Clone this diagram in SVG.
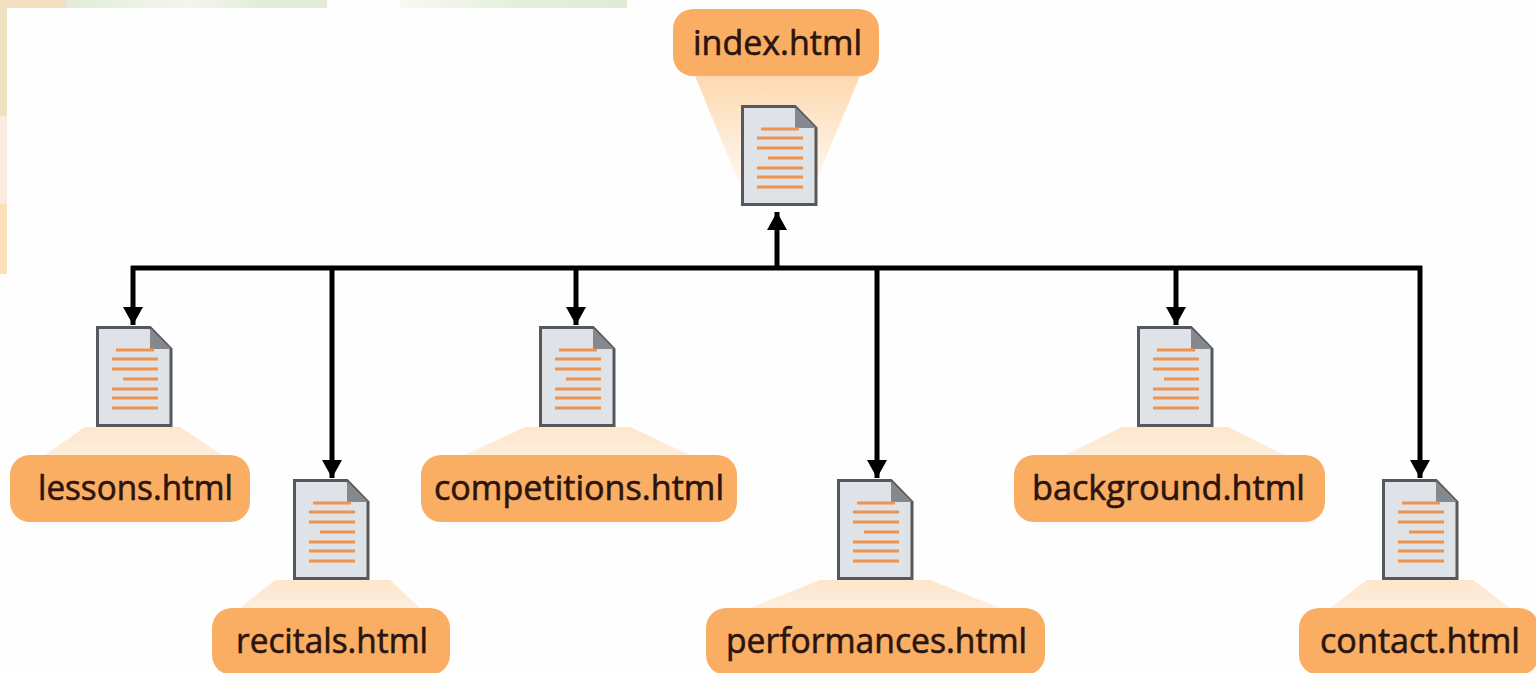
<svg xmlns="http://www.w3.org/2000/svg" width="1536" height="673" viewBox="0 0 1536 673">
<style>
.pill{fill:#f9ae63}
.lbl{font-family:"Open Sans","Noto Sans","Liberation Sans",sans-serif;font-size:34px;fill:#2a1510;stroke:#2a1510;stroke-width:.6;text-anchor:middle}
.wire{fill:none;stroke:#000;stroke-width:5}
.sheet{fill:#dfe2e6;stroke:#55585c;stroke-width:3}
.fold{fill:#85888c}
.ln{stroke:#ec9350;stroke-width:3}
</style>
<defs>
<linearGradient id="up" x1="0" y1="0" x2="0" y2="1"><stop offset="0" stop-color="#fde6cb"/><stop offset="1" stop-color="#fdeedd"/></linearGradient>
<linearGradient id="cone" x1="0" y1="0" x2="0" y2="1"><stop offset="0" stop-color="#fcd9b0"/><stop offset="1" stop-color="#fffaf4"/></linearGradient>
<linearGradient id="topg" x1="0" y1="0" x2="1" y2="0"><stop offset="0" stop-color="#e2ecd8"/><stop offset=".6" stop-color="#f2f6ec"/><stop offset="1" stop-color="#e2ecd8"/></linearGradient>
<linearGradient id="topg2" x1="0" y1="0" x2="1" y2="0"><stop offset="0" stop-color="#f7f9f2"/><stop offset=".5" stop-color="#e6efdc"/><stop offset="1" stop-color="#e0ebd6"/></linearGradient>
<marker id="head" viewBox="0 0 18 20" refX="18" refY="10" markerWidth="18" markerHeight="20" markerUnits="userSpaceOnUse" orient="auto"><path d="M0 0L18 10L0 20z" fill="#000"/></marker>
<g id="doc">
<path class="sheet" d="M1.500 1.500H54L75 23V99.500H1.500z"/>
<path class="fold" d="M54 2L75 23H54z"/>
<path class="ln" d="M20 24H58M16 33H62M16 43H62M27 53H62M16 63H62M16 72H62M16 82H62"/>
</g>
</defs>
<rect width="1536" height="673" fill="#fefefe"/>
<g id="background">
<rect x="0" y="0" width="66" height="8" fill="#f2dfc0"/>
<rect x="66" y="0" width="202" height="8" fill="url(#topg)"/>
<rect x="268" y="0" width="59" height="8" fill="#e2ecd8"/>
<rect x="400" y="0" width="227" height="8" fill="url(#topg2)"/>
<rect x="0" y="8" width="7" height="108" fill="#ece2c2"/>
<rect x="0" y="116" width="7" height="88" fill="#fbeadf"/>
<rect x="0" y="204" width="7" height="70" fill="#fbe0b8"/>
</g>
<g id="connectors">
<path class="wire" d="M131 268H1422"/>
<path class="wire" d="M777 268V212" marker-end="url(#head)"/>
<path class="wire" d="M133 266V325" marker-end="url(#head)"/>
<path class="wire" d="M332 268V478" marker-end="url(#head)"/>
<path class="wire" d="M576 268V325" marker-end="url(#head)"/>
<path class="wire" d="M877 268V478" marker-end="url(#head)"/>
<path class="wire" d="M1176 268V325" marker-end="url(#head)"/>
<path class="wire" d="M1420 266V478" marker-end="url(#head)"/>
</g>
<g id="node-index">
<path d="M695 76H860L812 190H742z" fill="url(#cone)"/>
<rect class="pill" x="673" y="9" width="206" height="67" rx="20"/>
<text class="lbl" x="777.500" y="55" textLength="169" lengthAdjust="spacingAndGlyphs">index.html</text>
<use href="#doc" x="741" y="105"/>
</g>
<g id="node-lessons">
<path d="M85 427H180L222 455H45z" fill="url(#up)"/>
<rect class="pill" x="10" y="455" width="240" height="67" rx="20"/>
<text class="lbl" x="135.500" y="500" textLength="195" lengthAdjust="spacingAndGlyphs">lessons.html</text>
<use href="#doc" x="96" y="326"/>
</g>
<g id="node-recitals">
<path d="M275 580H390L420 608H240z" fill="url(#up)"/>
<rect class="pill" x="212" y="608" width="238" height="67" rx="20"/>
<text class="lbl" x="332" y="653" textLength="192" lengthAdjust="spacingAndGlyphs">recitals.html</text>
<use href="#doc" x="293" y="479"/>
</g>
<g id="node-competitions">
<path d="M525 427H630L690 455H465z" fill="url(#up)"/>
<rect class="pill" x="421" y="455" width="316" height="67" rx="20"/>
<text class="lbl" x="579" y="500" textLength="290" lengthAdjust="spacingAndGlyphs">competitions.html</text>
<use href="#doc" x="539" y="326"/>
</g>
<g id="node-performances">
<path d="M820 580H930L1000 608H750z" fill="url(#up)"/>
<rect class="pill" x="706" y="608" width="339" height="67" rx="20"/>
<text class="lbl" x="876.500" y="653" textLength="301" lengthAdjust="spacingAndGlyphs">performances.html</text>
<use href="#doc" x="837" y="479"/>
</g>
<g id="node-background">
<path d="M1122 427H1228L1285 455H1065z" fill="url(#up)"/>
<rect class="pill" x="1014" y="455" width="311" height="67" rx="20"/>
<text class="lbl" x="1168.500" y="500" textLength="273" lengthAdjust="spacingAndGlyphs">background.html</text>
<use href="#doc" x="1137" y="326"/>
</g>
<g id="node-contact">
<path d="M1367 580H1473L1510 608H1330z" fill="url(#up)"/>
<rect class="pill" x="1299" y="608" width="240" height="67" rx="20"/>
<text class="lbl" x="1420" y="653" textLength="200" lengthAdjust="spacingAndGlyphs">contact.html</text>
<use href="#doc" x="1382" y="479"/>
</g>
</svg>
